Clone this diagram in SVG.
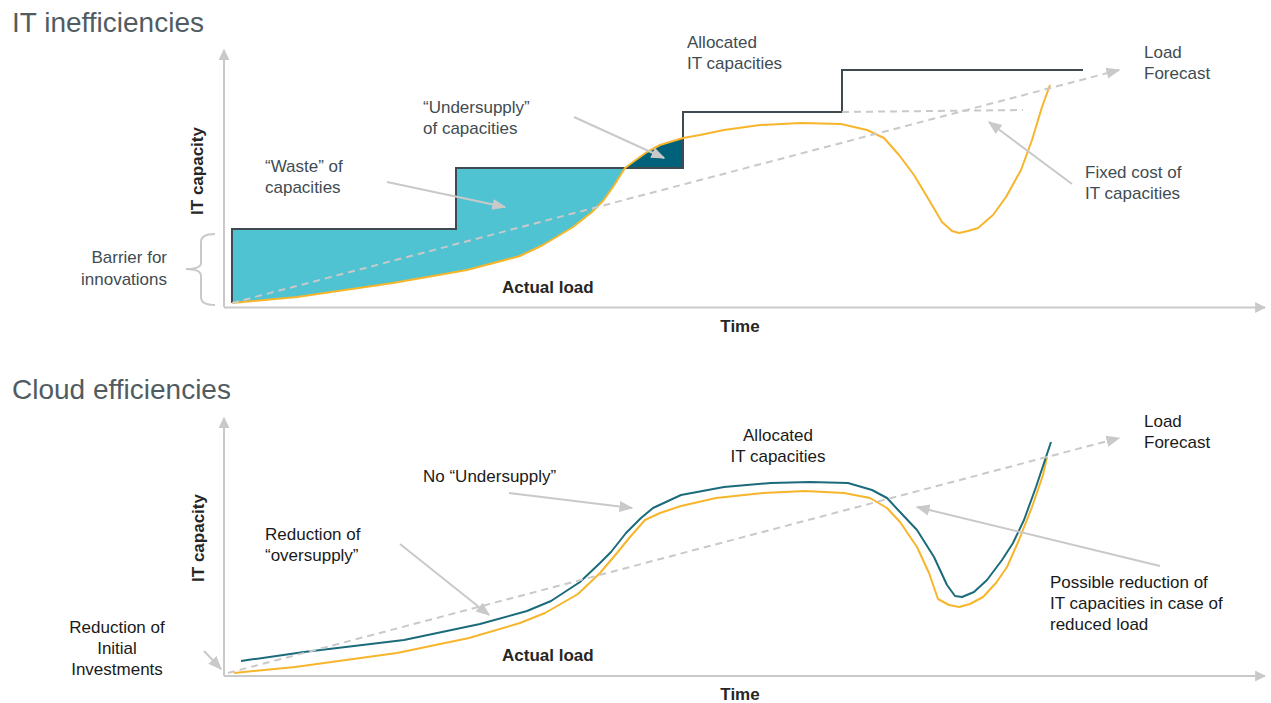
<svg xmlns="http://www.w3.org/2000/svg" width="1271" height="703" viewBox="0 0 1271 703">
<style>
.title{font-family:"Liberation Sans",Arial,sans-serif;font-size:28px;fill:#515c62}
.lbl{font-family:"Liberation Sans",Arial,sans-serif;font-size:17px;fill:#414c52}
.lbl2{font-family:"Liberation Sans",Arial,sans-serif;font-size:17px;fill:#1a1a1a}
.bold{font-family:"Liberation Sans",Arial,sans-serif;font-size:17px;font-weight:bold;fill:#262626}
.axis{stroke:#c9c9c9;stroke-width:2;fill:none}
.dash{stroke:#c9c9c9;stroke-width:2;fill:none;stroke-dasharray:7,5}
.ptr{stroke:#c9c9c9;stroke-width:2;fill:none}
.load{stroke:#f7b52b;stroke-width:2;fill:none;stroke-linejoin:round}
.alloc{stroke:#1b6b7b;stroke-width:2;fill:none;stroke-linejoin:round}
.step{stroke:#3e4a50;stroke-width:2;fill:none}
</style>
<defs>
<marker id="ahb" viewBox="0 0 10 10" refX="9" refY="5" markerWidth="11" markerHeight="11" orient="auto" markerUnits="userSpaceOnUse">
<path d="M0,0 L10,5 L0,10 Z" fill="#c9c9c9"/>
</marker>
<marker id="ahp" viewBox="0 0 10 10" refX="9" refY="5" markerWidth="14" markerHeight="14" orient="auto" markerUnits="userSpaceOnUse">
<path d="M0,1 L10,5 L0,9 Z" fill="#c9c9c9"/>
</marker>
</defs>
<rect width="1271" height="703" fill="#ffffff"/>

<g id="titles">
<text class="title" x="12" y="32">IT inefficiencies</text>
<text class="title" x="12" y="399">Cloud efficiencies</text>
</g>

<g id="top-chart">
<path d="M232,303 L232,229 L456,229 L456,168 L625,168 L613,187 L603,201 L592,212 L573,227 L543,245 L520,256 L467,270 L393,283 L297,297 Z" fill="#4fc3d1"/>
<path d="M625,168 L633,162 L647,152 L660,145 L683,138 L683,168 Z" fill="#00627a"/>
<path class="step" d="M232,303 L232,229 L456,229 L456,168 L683,168 L683,112 L842,112 L842,70 L1083,70"/>
<path class="dash" d="M842,112 L1023,110"/>
<path class="load" d="M232,303 L297,297 L393,283 L467,270 L520,256 L543,245 L573,227 L592,212 L603,201 L613,187 L625,168 L633,162 L647,152 L660,145 L683,138 L700,135 L724,130 L760,125 L801,123 L841,124 L867,130 L884,138 L899,155 L914,175 L929,200 L942,222 L952,231 L959,233 L968,231 L978,228 L993,215 L1006,197 L1021,170 L1032,140 L1042,107 L1050,85"/>
<path class="axis" d="M215,234 Q201,234 201,242 L201,263 Q201,269 186,269 Q201,269 201,276 L201,297 Q201,305 215,305"/>
</g>

<g id="bottom-chart">
<path class="load" d="M234,673 L295,667 L397,653 L469,638 L520,623 L545,613 L578,594 L600,573 L617,553 L630,537 L645,520 L660,513 L681,506 L716,498 L763,493 L805,491 L844,493 L870,498 L887,508 L900,522 L917,547 L929,573 L938,599 L949,605 L959,607 L970,604 L983,597 L996,583 L1007,567 L1019,540 L1032,507 L1043,475 L1047,457"/>
<path class="alloc" d="M241,661 L304,652 L404,640 L480,624 L527,611 L551,601 L580,582 L600,563 L611,552 L626,533 L641,518 L653,508 L681,495 L724,487 L771,483 L810,482 L848,483 L872,490 L887,498 L900,512 L917,530 L934,557 L947,585 L955,596 L962,597 L974,592 L987,580 L1002,560 L1013,543 L1024,520 L1036,487 L1045,460 L1051,442"/>
</g>

<g id="connectors">
<path class="axis" d="M224,307 L224,50" marker-end="url(#ahb)"/>
<path class="axis" d="M224,307.5 L1265,307.5" marker-end="url(#ahb)"/>
<path class="axis" d="M224,676 L224,418" marker-end="url(#ahb)"/>
<path class="axis" d="M224,676 L1265,676" marker-end="url(#ahb)"/>
<path class="dash" d="M232,303 L1119,70" marker-end="url(#ahp)"/>
<path class="dash" d="M228,673 L1119,438" marker-end="url(#ahp)"/>
<path class="ptr" d="M387,182 L505,207" marker-end="url(#ahp)"/>
<path class="ptr" d="M574,117 L664,158" marker-end="url(#ahp)"/>
<path class="ptr" d="M1072,184 L989,122" marker-end="url(#ahp)"/>
<path class="ptr" d="M509,493 L632,508" marker-end="url(#ahp)"/>
<path class="ptr" d="M400,544 L489,615" marker-end="url(#ahp)"/>
<path class="ptr" d="M1160,566 L917,507" marker-end="url(#ahp)"/>
<path class="ptr" d="M204,651 L221,669" marker-end="url(#ahp)"/>
</g>

<g id="top-labels">
<text class="bold" transform="translate(203,171) rotate(-90)" text-anchor="middle">IT capacity</text>
<text class="bold" x="740" y="332" text-anchor="middle">Time</text>
<text class="bold" x="502" y="293">Actual load</text>
<g id="lbl-allocated-top"><text class="lbl" x="687" y="48">Allocated</text><text class="lbl" x="687" y="69">IT capacities</text></g>
<g id="lbl-forecast-top"><text class="lbl" x="1144" y="58">Load</text><text class="lbl" x="1144" y="79">Forecast</text></g>
<g id="lbl-undersupply"><text class="lbl" x="423" y="113">“Undersupply”</text><text class="lbl" x="423" y="134">of capacities</text></g>
<g id="lbl-waste"><text class="lbl" x="265" y="172">“Waste” of</text><text class="lbl" x="265" y="193">capacities</text></g>
<g id="lbl-fixed"><text class="lbl" x="1085" y="178">Fixed cost of</text><text class="lbl" x="1085" y="199">IT capacities</text></g>
<g id="lbl-barrier"><text class="lbl" x="167" y="263" text-anchor="end">Barrier for</text><text class="lbl" x="167" y="285" text-anchor="end">innovations</text></g>
</g>

<g id="bottom-labels">
<text class="bold" transform="translate(204,538) rotate(-90)" text-anchor="middle">IT capacity</text>
<text class="bold" x="740" y="700" text-anchor="middle">Time</text>
<text class="bold" x="502" y="661">Actual load</text>
<g id="lbl-allocated-bottom"><text class="lbl2" x="778" y="441" text-anchor="middle">Allocated</text><text class="lbl2" x="778" y="462" text-anchor="middle">IT capacities</text></g>
<g id="lbl-forecast-bottom"><text class="lbl2" x="1144" y="427">Load</text><text class="lbl2" x="1144" y="448">Forecast</text></g>
<g id="lbl-no-undersupply"><text class="lbl2" x="423" y="482">No “Undersupply”</text></g>
<g id="lbl-oversupply"><text class="lbl2" x="265" y="540">Reduction of</text><text class="lbl2" x="265" y="561">“oversupply”</text></g>
<g id="lbl-possible"><text class="lbl2" x="1050" y="588">Possible reduction of</text><text class="lbl2" x="1050" y="609">IT capacities in case of</text><text class="lbl2" x="1050" y="630">reduced load</text></g>
<g id="lbl-initial"><text class="lbl2" x="117" y="633" text-anchor="middle">Reduction of</text><text class="lbl2" x="117" y="654" text-anchor="middle">Initial</text><text class="lbl2" x="117" y="675" text-anchor="middle">Investments</text></g>
</g>
</svg>
